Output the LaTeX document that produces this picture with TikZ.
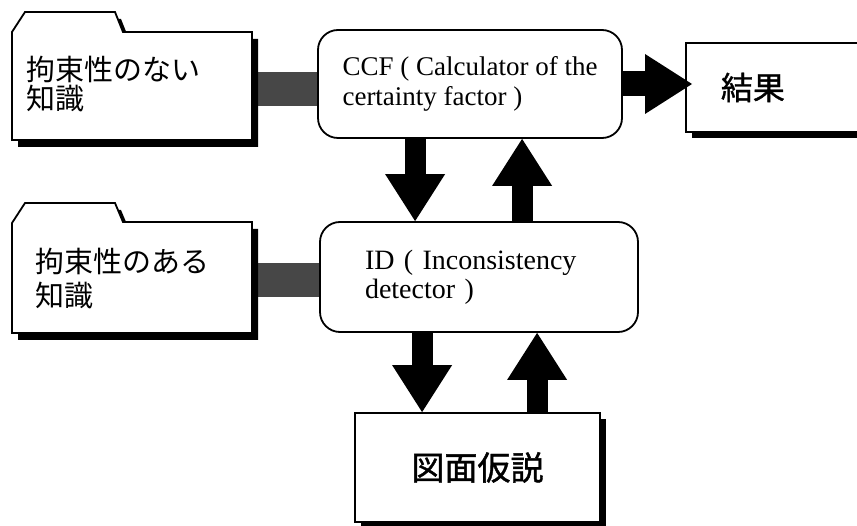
\documentclass[tikz,border=0pt]{standalone}
\usepackage{fontspec}
\setmainfont{Liberation Serif}
\newfontfamily\jp{Noto Sans CJK JP}
\newfontfamily\jpm[FakeBold=1.2]{Noto Sans CJK JP}
\usetikzlibrary{arrows.meta,shadows,calc,backgrounds}
\tikzset{
  roundbox/.style={draw, line width=1.8pt, rounded corners=20pt, fill=white},
  shadowbox/.style={draw, line width=1.8pt, fill=white,
    drop shadow={shadow xshift=6pt, shadow yshift=-6pt, fill=black, opacity=1}},
  bigarrow/.style={line width=21pt, -{Triangle[width=60pt, length=47pt, line width=0pt]}},
  hatchbar/.style={line width=34pt, draw=black!72},
  folderline/.style={draw, line width=1.8pt, fill=white, line join=miter},
  foldertext/.style={inner ysep=0pt, align=left, font=\jp\fontsize{29}{29}\selectfont},
}
\begin{document}
\begin{tikzpicture}[x=1pt,y=-1pt]
\begin{scope}[on background layer]
  \fill[white] (0,0) rectangle (857,526);
\end{scope}
\useasboundingbox (0,0) rectangle (857,526);
% folder 1
\begin{scope}[shift={(6,7)}]
  \fill (12,140) -- (12,32) -- (25,12) -- (115,12) -- (123,32) -- (252,32) -- (252,140) -- cycle;
\end{scope}
\path[folderline] (12,140) -- (12,32) -- (25,12) -- (115,12) -- (123,32) -- (252,32) -- (252,140) -- cycle;
% folder 2
\begin{scope}[shift={(6,7)}]
  \fill (12,333) -- (12,223) -- (25,203) -- (115,203) -- (123,222) -- (252,222) -- (252,333) -- cycle;
\end{scope}
\path[folderline] (12,333) -- (12,223) -- (25,203) -- (115,203) -- (123,222) -- (252,222) -- (252,333) -- cycle;
\node[foldertext, inner xsep=15pt, text width=210pt, minimum height=108pt] (f1) at (132,84) {拘束性のない\\知識};
\node[foldertext, inner xsep=23pt, text width=194pt, minimum height=111pt,
      font=\jp\fontsize{29}{34}\selectfont] (f2) at (132,279) {拘束性のある\\知識};
% process boxes
\node[roundbox, minimum width=304pt, minimum height=108pt, align=left,
      font=\fontsize{27}{30}\selectfont] (ccf) at (470,84) {CCF ( Calculator of the\\certainty factor )};
\node[roundbox, minimum width=318pt, minimum height=110pt, text width=228pt, inner xsep=45pt,
      align=left, font=\fontsize{28}{29}\selectfont] (id) at (479,277) {ID ( Inconsistency\\detector )};
\node[shadowbox, anchor=west, minimum height=89pt, text width=150pt, inner xsep=35pt, align=left,
      font=\jpm\fontsize{32}{34}\selectfont] (res) at (685,87.5) {結果};
\node[shadowbox, minimum width=245pt, minimum height=109pt,
      font=\jpm\fontsize{33}{35}\selectfont] (zu) at (477.5,467.5) {図面仮説};
% hatched links
\begin{scope}[on background layer]
  \draw[hatchbar] ([yshift=-5pt]ccf.west) -- ([yshift=-5pt]ccf.west -| f1.east);
  \draw[hatchbar] ([yshift=-3pt]id.west) -- ([yshift=-3pt]id.west -| f2.east);
\end{scope}
% block arrows
\coordinate (a1) at ($(ccf.south west)+(98,0)$);
\draw[bigarrow] (a1) -- (a1 |- id.north);
\coordinate (a2) at ($(id.north west)+(203,0)$);
\draw[bigarrow] (a2) -- (a2 |- ccf.south);
\coordinate (a3) at ($(res.west |- ccf.east)+(7,0)$);
\draw[bigarrow, line width=25pt] (ccf.east) -- (a3);
\coordinate (a4) at ($(id.south west)+(103,0)$);
\draw[bigarrow] (a4) -- (a4 |- zu.north);
\coordinate (a5) at ($(id.south west)+(218,0)$);
\draw[bigarrow] (a5 |- zu.north) -- (a5);
\end{tikzpicture}
\end{document}
